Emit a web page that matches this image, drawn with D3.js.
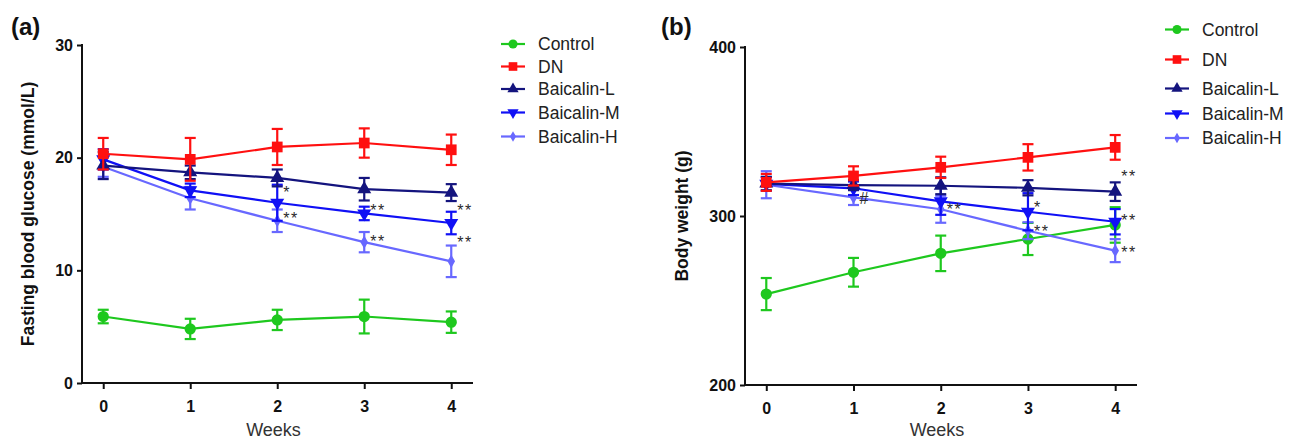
<!DOCTYPE html>
<html>
<head>
<meta charset="utf-8">
<script src="https://cdn.jsdelivr.net/npm/d3@7"></script>
<style>
  body { margin: 0; background: #fff; }
  svg text { font-family: "Liberation Sans", Arial, sans-serif; }
</style>
</head>
<body>
<div id="chart"></div>
<script>
// weeks and groups
const weeks = [0, 1, 2, 3, 4];
const groups = ['Control', 'DN', 'Baicalin-L', 'Baicalin-M', 'Baicalin-H'];

// (a) fasting blood glucose, mmol/L (mean, SD)
const fbgControl = [5.9, 4.8, 5.6, 5.9, 5.4];
const fbgControlErr = [0.6, 0.9, 0.9, 1.5, 0.95];
const fbgDN = [20.35, 19.85, 20.95, 21.3, 20.7];
const fbgDNErr = [1.4, 1.9, 1.6, 1.3, 1.35];
const fbgL = [19.3, 18.7, 18.2, 17.2, 16.9];
const fbgLErr = [1.2, 0.6, 0.75, 1.0, 0.75];
const fbgM = [19.85, 17.1, 16.0, 15.05, 14.2];
const fbgMErr = [0.9, 0.6, 1.6, 0.6, 1.0];
const fbgH = [19.2, 16.4, 14.4, 12.5, 10.8];
const fbgHErr = [0.9, 1.0, 1.0, 0.9, 1.4];
const fbgTicks = [0, 10, 20, 30];
// significance marks: [week, value, text]
const fbgMarks = [[2, 17.0, '*'], [2, 14.7, '**'], [3, 15.4, '**'], [3, 12.7, '**'], [4, 15.4, '**'], [4, 12.6, '**']];

// (b) body weight, g (mean, SD)
const bwControl = [253.8, 266.7, 277.9, 286.4, 294.7];
const bwControlErr = [9.5, 8.5, 10.5, 9.5, 10.5];
const bwDN = [319.9, 323.7, 328.8, 334.7, 340.6];
const bwDNErr = [5, 5.7, 6.3, 7.8, 7.3];
const bwL = [319.2, 318.3, 317.9, 316.7, 314.4];
const bwLErr = [4, 3, 5, 4.5, 5.5];
const bwM = [319, 316.4, 308.7, 302.5, 296.6];
const bwMErr = [4, 4, 8, 11, 7.5];
const bwH = [318.5, 311, 304, 291.3, 279.5];
const bwHErr = [8, 4.5, 8, 5, 6.8];
const bwTicks = [200, 300, 400];
const bwMarks = [[1, 311.5, '#'], [2, 304.5, '**'], [3, 306, '*'], [3, 291.5, '**'], [4, 324.5, '**'], [4, 298, '**'], [4, 279.5, '**']];

const colors = ['#1ec81e', '#ff1010', '#14147e', '#1010f5', '#6868ff'];
const symbols = [d3.symbolCircle, d3.symbolSquare, d3.symbolTriangle, d3.symbolTriangle, d3.symbolDiamond];
const symSizes = [100, 115, 85, 85, 50];
const symRotate = [0, 0, 0, 180, 0];

const svg = d3.select('#chart').append('svg')
  .attr('width', 1289)
  .attr('height', 441);

function drawPanel(cfg) {
  const x = d3.scaleLinear().domain([-0.244, 4.25]).range([cfg.left, cfg.right]);
  const y = d3.scaleLinear().domain(cfg.yDomain).range([cfg.bottom, cfg.top]);
  const g = svg.append('g');

  // axes
  const ax = g.append('g')
    .attr('transform', `translate(0,${cfg.bottom})`)
    .call(d3.axisBottom(x).tickValues(weeks).tickSize(6).tickPadding(12).tickFormat(d3.format('d')));
  const ay = g.append('g')
    .attr('transform', `translate(${cfg.left},0)`)
    .call(d3.axisLeft(y).tickValues(cfg.ticks).tickSize(5).tickPadding(4));
  [ax, ay].forEach(a => {
    a.select('.domain').attr('stroke', '#111').attr('stroke-width', 2);
    a.selectAll('.tick line').attr('stroke', '#111').attr('stroke-width', 2);
    a.selectAll('.tick text').attr('fill', '#111').style('font-size', '16px').style('font-weight', 'bold');
  });
  ax.select('.domain').attr('d', `M${cfg.left},0H${cfg.right}`);
  ay.select('.domain').attr('d', `M0,${cfg.bottom}V${cfg.top - 1}`);

  // titles
  g.append('text')
    .attr('x', (cfg.left + cfg.right) / 2 - 4)
    .attr('y', cfg.weeksY)
    .attr('text-anchor', 'middle')
    .attr('fill', '#333')
    .style('font-size', '18px')
    .text('Weeks');
  g.append('text')
    .attr('transform', `translate(${cfg.yLabelX},${(cfg.top + cfg.bottom) / 2}) rotate(-90)`)
    .attr('text-anchor', 'middle')
    .attr('fill', '#111')
    .style('font-size', '17.5px')
    .style('font-weight', 'bold')
    .text(cfg.yLabel);
  g.append('text')
    .attr('x', cfg.tagX)
    .attr('y', 35)
    .attr('fill', '#111')
    .style('font-size', '24px')
    .style('font-weight', 'bold')
    .text(cfg.tag);

  const line = d3.line().x((d, i) => x(weeks[i])).y(d => y(d));

  // Control first, DN last so it sits on top
  const order = [0, 4, 3, 2, 1];
  order.forEach(k => {
    const vals = cfg.series[k];
    const errs = cfg.errors[k];
    const s = g.append('g').attr('stroke', colors[k]).attr('fill', colors[k]);
    s.append('path').datum(vals).attr('d', line).attr('fill', 'none').attr('stroke-width', 2.2);
    const eb = s.selectAll('.eb').data(vals).enter().append('g');
    eb.append('line')
      .attr('x1', (d, i) => x(weeks[i])).attr('x2', (d, i) => x(weeks[i]))
      .attr('y1', (d, i) => y(d - errs[i])).attr('y2', (d, i) => y(d + errs[i]))
      .attr('stroke-width', 2.2);
    [-1, 1].forEach(sg => {
      eb.append('line')
        .attr('x1', (d, i) => x(weeks[i]) - 5.5).attr('x2', (d, i) => x(weeks[i]) + 5.5)
        .attr('y1', (d, i) => y(d + sg * errs[i])).attr('y2', (d, i) => y(d + sg * errs[i]))
        .attr('stroke-width', 2.2);
    });
    s.selectAll('.mk').data(vals).enter().append('path')
      .attr('d', d3.symbol().type(symbols[k]).size(symSizes[k]))
      .attr('stroke', 'none')
      .attr('transform', (d, i) => `translate(${x(weeks[i])},${y(d)}) rotate(${symRotate[k]})`);
  });

  // significance marks
  g.selectAll('.sig').data(cfg.marks).enter().append('text')
    .attr('x', d => x(d[0]) + 6)
    .attr('y', d => y(d[1]) + 7)
    .attr('fill', '#2a2a2a')
    .style('font-size', '16px')
    .style('letter-spacing', '1.5px')
    .text(d => d[2]);

  // legend
  const lg = g.append('g');
  groups.forEach((name, k) => {
    const ly = cfg.legendY[k];
    lg.append('line')
      .attr('x1', cfg.legendX).attr('x2', cfg.legendX + 24)
      .attr('y1', ly).attr('y2', ly)
      .attr('stroke', colors[k]).attr('stroke-width', 2.2);
    lg.append('path')
      .attr('d', d3.symbol().type(symbols[k]).size(symSizes[k] * 0.65))
      .attr('fill', colors[k])
      .attr('transform', `translate(${cfg.legendX + 12},${ly}) rotate(${symRotate[k]})`);
    lg.append('text')
      .attr('x', cfg.legendX + 37)
      .attr('y', ly + 6)
      .attr('fill', '#222')
      .style('font-size', '17.5px')
      .text(name);
  });
}

drawPanel({
  tag: '(a)', tagX: 11,
  left: 82, right: 473, top: 45, bottom: 383,
  yDomain: [0, 30], ticks: fbgTicks,
  yLabel: 'Fasting blood glucose (mmol/L)', yLabelX: 34,
  series: [fbgControl, fbgDN, fbgL, fbgM, fbgH],
  errors: [fbgControlErr, fbgDNErr, fbgLErr, fbgMErr, fbgHErr],
  marks: fbgMarks, weeksY: 436,
  legendX: 501, legendY: [44, 66.5, 89, 112.5, 136.5]
});

drawPanel({
  tag: '(b)', tagX: 661,
  left: 745, right: 1137, top: 47, bottom: 385,
  yDomain: [200, 400], ticks: bwTicks,
  yLabel: 'Body weight (g)', yLabelX: 688,
  series: [bwControl, bwDN, bwL, bwM, bwH],
  errors: [bwControlErr, bwDNErr, bwLErr, bwMErr, bwHErr],
  marks: bwMarks, weeksY: 436,
  legendX: 1165, legendY: [29.5, 59.5, 88.5, 113.5, 138]
});
</script>
</body>
</html>
